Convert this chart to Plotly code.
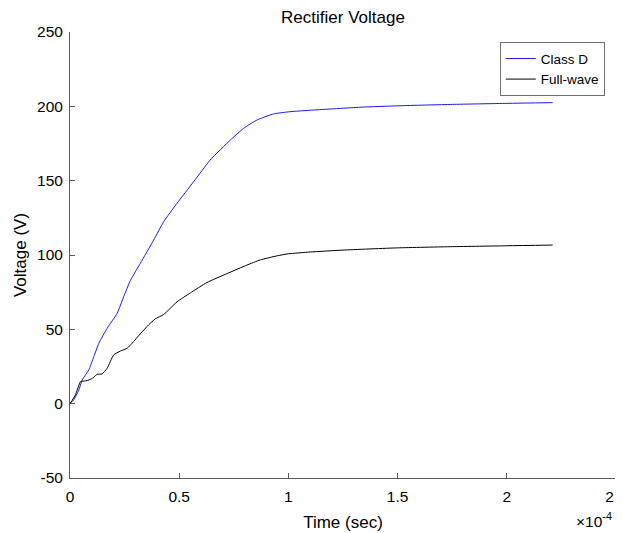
import plotly.graph_objects as go

# Time in units of 1e-4 s
time_classd = [0, 0.017, 0.040, 0.056, 0.086, 0.109, 0.132, 0.170, 0.216, 0.246, 0.277,
               0.322, 0.383, 0.429, 0.490, 0.566, 0.642, 0.734, 0.795, 0.856, 0.932,
               1.008, 1.115, 1.328, 1.511, 1.75, 2.0, 2.21]
volt_classd = [0, 2.5, 9, 16, 22.7, 31.6, 40.6, 50.7, 60.8, 72, 83,
               94.4, 110, 122.4, 134.8, 149.3, 163.9, 177.3, 185.2, 190.8, 194.9,
               196.4, 197.5, 199.4, 200.4, 201.3, 202, 202.5]

time_fullwave = [0, 0.025, 0.048, 0.065, 0.079, 0.095, 0.109, 0.124, 0.147, 0.170, 0.200,
                 0.231, 0.262, 0.284, 0.322, 0.36, 0.39, 0.429, 0.490, 0.551, 0.627,
                 0.719, 0.810, 0.871, 0.95, 1.0, 1.1, 1.25, 1.5, 1.75, 2.0, 2.21]
volt_fullwave = [0, 5.9, 14.8, 15.2, 15.5, 16.5, 17.7, 19.8, 20, 23.8, 32.8,
                 35.4, 37.3, 40.6, 47, 53, 57, 60, 68.5, 74.5, 81.5,
                 87.5, 93.2, 96.7, 99.5, 100.8, 102, 103.3, 104.8, 105.6, 106.2, 106.7]

x_ticks = [0, 0.5, 1, 1.5, 2, 2.5]
x_tick_text = ["0", "0.5", "1", "1.5", "2", "2.5"]
y_ticks = [-50, 0, 50, 100, 150, 200, 250]
y_tick_text = ["-50", "0", "50", "100", "150", "200", "250"]

SCALE = 1e-4
FONT = "Liberation Sans, Arial, Helvetica, sans-serif"
AX = "#5a5a5a"

fig = go.Figure()
fig.add_trace(go.Scatter(x=[t * SCALE for t in time_classd], y=volt_classd, mode="lines",
                         name="Class D", line=dict(color="#1a1aee", width=1, shape="spline", smoothing=0.5)))
fig.add_trace(go.Scatter(x=[t * SCALE for t in time_fullwave], y=volt_fullwave, mode="lines",
                         name="Full-wave", line=dict(color="#000000", width=1, shape="spline", smoothing=0.5)))

# page body has an 8px margin: figure is sized/offset to compensate
fig.update_layout(
    width=615, height=525,
    margin=dict(l=61.5, r=6.5, t=24, b=55, autoexpand=False),
    paper_bgcolor="white", plot_bgcolor="white",
    font=dict(family=FONT, size=15, color="#000000"),
    title=dict(text="Rectifier Voltage", x=0.5, xref="paper", xanchor="center",
               y=1 - 9.5 / 525, yref="container", yanchor="middle",
               font=dict(size=17, family=FONT, color="#000")),
    showlegend=True,
    legend=dict(x=0.9795, y=0.977, xanchor="right", yanchor="top",
                bordercolor="#707070", borderwidth=1, bgcolor="white",
                font=dict(size=13.5, family=FONT), tracegroupgap=0, itemwidth=30),
)
fig.update_xaxes(range=[0, 2.5 * SCALE], tickvals=[t * SCALE for t in x_ticks], ticktext=x_tick_text,
                 ticks="inside", ticklen=5, tickcolor=AX, showline=True, linecolor=AX, linewidth=1,
                 showgrid=False, zeroline=False, tickfont=dict(size=15.5), automargin=False,
                 ticklabelstandoff=4, ticklabeloverflow="allow",
                 title=dict(text="Time (sec)", font=dict(size=17), standoff=12))
fig.update_yaxes(range=[-50, 250], tickvals=y_ticks, ticktext=y_tick_text,
                 ticks="inside", ticklen=5, tickcolor=AX, showline=True, linecolor=AX, linewidth=1,
                 showgrid=False, zeroline=False, tickfont=dict(size=15.5), automargin=False,
                 ticklabelstandoff=3, ticklabeloverflow="allow",
                 title=dict(text="Voltage (V)", font=dict(size=17), standoff=6))
fig.add_annotation(text="×10<sup>-4</sup>", xref="paper", yref="paper", x=0.997, y=-0.094,
                   xanchor="right", yanchor="middle", showarrow=False,
                   font=dict(size=15.5, family=FONT, color="#000"))

fig.write_html("out.html")
